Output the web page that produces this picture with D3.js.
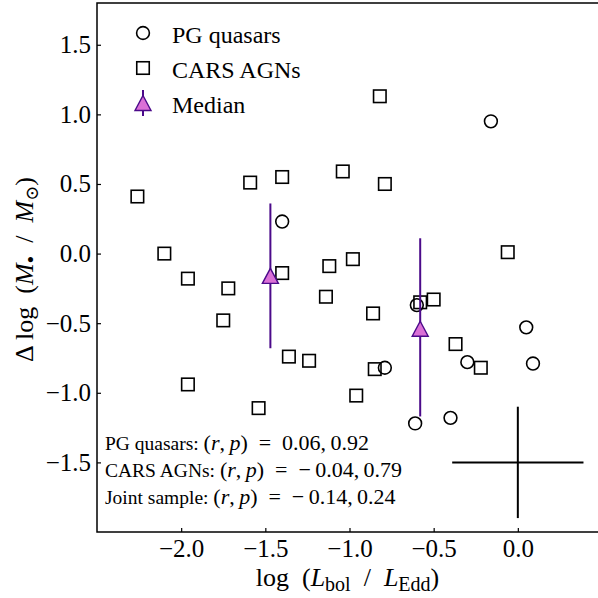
<!DOCTYPE html>
<html>
<head>
<meta charset="utf-8">
<script src="https://cdn.jsdelivr.net/npm/d3@7"></script>
<style>
  body { margin: 0; background: #fff; }
  svg text { font-family: "Liberation Serif", "DejaVu Serif", serif; fill: #000; }
</style>
</head>
<body>
<div id="chart"></div>
<script>
// PG quasars
const pgX = [-1.40, -0.16, -0.60, -0.79, -0.30, 0.05, 0.09, -0.61, -0.40];
const pgY = [0.23, 0.95, -0.37, -0.82, -0.78, -0.53, -0.79, -1.22, -1.18];

// CARS AGNs
const carsX = [-2.26, -2.10, -1.96, -1.72, -1.59, -1.40, -1.40, -1.75, -1.36, -1.96, -1.54, -1.24, -1.14,
  -1.12, -1.04, -0.98, -0.79, -0.82, -0.86, -0.85, -0.96, -0.58, -0.50, -0.37, -0.22, -0.06];
const carsY = [0.41, 0.00, -0.18, -0.25, 0.51, 0.55, -0.14, -0.48, -0.74, -0.94, -1.11, -0.77, -0.31,
  -0.09, 0.59, -0.04, 0.50, 1.13, -0.43, -0.83, -1.02, -0.35, -0.33, -0.65, -0.82, 0.01];

// medians with their error bar ends
const medX = [-1.47, -0.58];
const medY = [-0.16, -0.54];
const medLow = [-0.68, -1.17];
const medHigh = [0.36, 0.11];

// typical uncertainty cross
const crossX = [0.0];
const crossY = [-1.5];
const crossErrX = [0.39];
const crossErrY = [0.40];

const xTicks = [-2.0, -1.5, -1.0, -0.5, 0.0];
const yTicks = [-1.5, -1.0, -0.5, 0.0, 0.5, 1.0, 1.5];

const statLines = [
  { name: "PG quasars: ", r: "0.06", p: "0.92" },
  { name: "CARS AGNs: ", r: "\u2212\u20090.04", p: "0.79" },
  { name: "Joint sample: ", r: "\u2212\u20090.14", p: "0.24" }
];

const width = 598, height = 598;
const margin = { left: 97, top: 3, right: -4, bottom: 66 };
const purple = "#4b0a8a", orchid = "#da70d6";

const svg = d3.select("#chart").append("svg")
  .attr("width", width).attr("height", height);

const x = d3.scaleLinear().domain([-2.5, 0.5]).range([margin.left, width - margin.right]);
const y = d3.scaleLinear().domain([-2.0, 1.8]).range([height - margin.bottom, margin.top]);

// axes, ticks pointing inward
const xAxis = svg.append("g")
  .attr("transform", "translate(0," + y.range()[0] + ")")
  .call(d3.axisBottom(x).tickValues(xTicks).tickFormat(d3.format(".1f")).tickSizeInner(-4).tickSizeOuter(0).tickPadding(7));
const yAxis = svg.append("g")
  .attr("transform", "translate(" + x.range()[0] + ",0)")
  .call(d3.axisLeft(y).tickValues(yTicks).tickFormat(d3.format(".1f")).tickSizeInner(-4).tickSizeOuter(0).tickPadding(6));
[xAxis, yAxis].forEach(function (g) {
  g.select(".domain").remove();
  g.selectAll(".tick line").attr("stroke", "#000").attr("stroke-width", 1.2);
  g.selectAll(".tick text").attr("font-size", 25).attr("font-family", "Liberation Serif");
});

// frame
svg.append("rect")
  .attr("x", x.range()[0]).attr("y", y.range()[1])
  .attr("width", x.range()[1] - x.range()[0]).attr("height", y.range()[0] - y.range()[1])
  .attr("fill", "none").attr("stroke", "#000").attr("stroke-width", 1.5);

// CARS squares
const sq = 12.5;
svg.append("g").selectAll("rect")
  .data(d3.range(carsX.length))
  .enter().append("rect")
  .attr("x", function (i) { return x(carsX[i]) - sq / 2; })
  .attr("y", function (i) { return y(carsY[i]) - sq / 2; })
  .attr("width", sq).attr("height", sq)
  .attr("fill", "none").attr("stroke", "#000").attr("stroke-width", 1.6);

// PG circles
svg.append("g").selectAll("circle")
  .data(d3.range(pgX.length))
  .enter().append("circle")
  .attr("cx", function (i) { return x(pgX[i]); })
  .attr("cy", function (i) { return y(pgY[i]); })
  .attr("r", 6.4)
  .attr("fill", "none").attr("stroke", "#000").attr("stroke-width", 1.6);

// error cross
const cross = svg.append("g");
crossX.forEach(function (cx, i) {
  cross.append("line")
    .attr("x1", x(cx - crossErrX[i])).attr("x2", x(cx + crossErrX[i]))
    .attr("y1", y(crossY[i])).attr("y2", y(crossY[i]))
    .attr("stroke", "#000").attr("stroke-width", 2);
  cross.append("line")
    .attr("x1", x(cx)).attr("x2", x(cx))
    .attr("y1", y(crossY[i] - crossErrY[i])).attr("y2", y(crossY[i] + crossErrY[i]))
    .attr("stroke", "#000").attr("stroke-width", 2);
});

// triangle marker path centred on 0,0
function tri(w, h) {
  return "M0," + (-h / 2) + "L" + (w / 2) + "," + (h / 2) + "L" + (-w / 2) + "," + (h / 2) + "Z";
}

// medians
const med = svg.append("g");
medX.forEach(function (mx, i) {
  med.append("line")
    .attr("x1", x(mx)).attr("x2", x(mx))
    .attr("y1", y(medLow[i])).attr("y2", y(medHigh[i]))
    .attr("stroke", purple).attr("stroke-width", 2);
  med.append("path")
    .attr("d", tri(16, 15))
    .attr("transform", "translate(" + x(mx) + "," + y(medY[i]) + ")")
    .attr("fill", orchid).attr("stroke", purple).attr("stroke-width", 1.4);
});

// legend
const leg = svg.append("g");
leg.append("circle").attr("cx", 143).attr("cy", 33).attr("r", 6.4)
  .attr("fill", "none").attr("stroke", "#000").attr("stroke-width", 1.6);
leg.append("rect").attr("x", 143 - sq / 2).attr("y", 68 - sq / 2).attr("width", sq).attr("height", sq)
  .attr("fill", "none").attr("stroke", "#000").attr("stroke-width", 1.6);
leg.append("line").attr("x1", 143).attr("x2", 143).attr("y1", 90).attr("y2", 116)
  .attr("stroke", purple).attr("stroke-width", 2);
leg.append("path").attr("d", tri(16, 15)).attr("transform", "translate(143,103)")
  .attr("fill", orchid).attr("stroke", purple).attr("stroke-width", 1.4);
["PG quasars", "CARS AGNs", "Median"].forEach(function (t, i) {
  leg.append("text").attr("x", 172).attr("y", 42.5 + i * 35).attr("font-size", 24).text(t);
});

// statistics text
const stats = svg.append("g");
statLines.forEach(function (s, i) {
  const t = stats.append("text").attr("x", 105).attr("y", 450 + i * 27).attr("font-size", 19.5);
  t.append("tspan").text(s.name);
  const m = t.append("tspan").attr("font-size", 22);
  m.append("tspan").text("(");
  m.append("tspan").attr("font-style", "italic").text("r");
  m.append("tspan").text(",\u2009");
  m.append("tspan").attr("font-style", "italic").text("p");
  m.append("tspan").text(")\u2002=\u2002" + s.r + ",\u2009" + s.p);
});

// x label
const xl = svg.append("text")
  .attr("x", (x.range()[0] + x.range()[1]) / 2 - 2).attr("y", 586)
  .attr("text-anchor", "middle").attr("font-size", 26);
xl.append("tspan").text("log\u2002(");
xl.append("tspan").attr("font-style", "italic").text("L");
xl.append("tspan").attr("font-size", 20).attr("dy", 5).text("bol");
xl.append("tspan").attr("dy", -5).text("\u2002/\u2002");
xl.append("tspan").attr("font-style", "italic").text("L");
xl.append("tspan").attr("font-size", 20).attr("dy", 5).text("Edd");
xl.append("tspan").attr("dy", -5).text(")");

// y label
const yl = svg.append("text")
  .attr("transform", "translate(33," + ((y.range()[0] + y.range()[1]) / 2 + 2) + ") rotate(-90)")
  .attr("text-anchor", "middle").attr("font-size", 26);
yl.append("tspan").text("\u0394\u2009log\u2002(");
yl.append("tspan").attr("font-style", "italic").text("M");
yl.append("tspan").attr("font-size", 22).attr("dy", 5).text("\u2022");
yl.append("tspan").attr("dy", -5).text("\u2002/\u2002");
yl.append("tspan").attr("font-style", "italic").text("M");
yl.append("tspan").attr("font-size", 18).attr("dy", 5).attr("font-family", "DejaVu Serif").text("\u2299");
yl.append("tspan").attr("dy", -5).text(")");
</script>
</body>
</html>
